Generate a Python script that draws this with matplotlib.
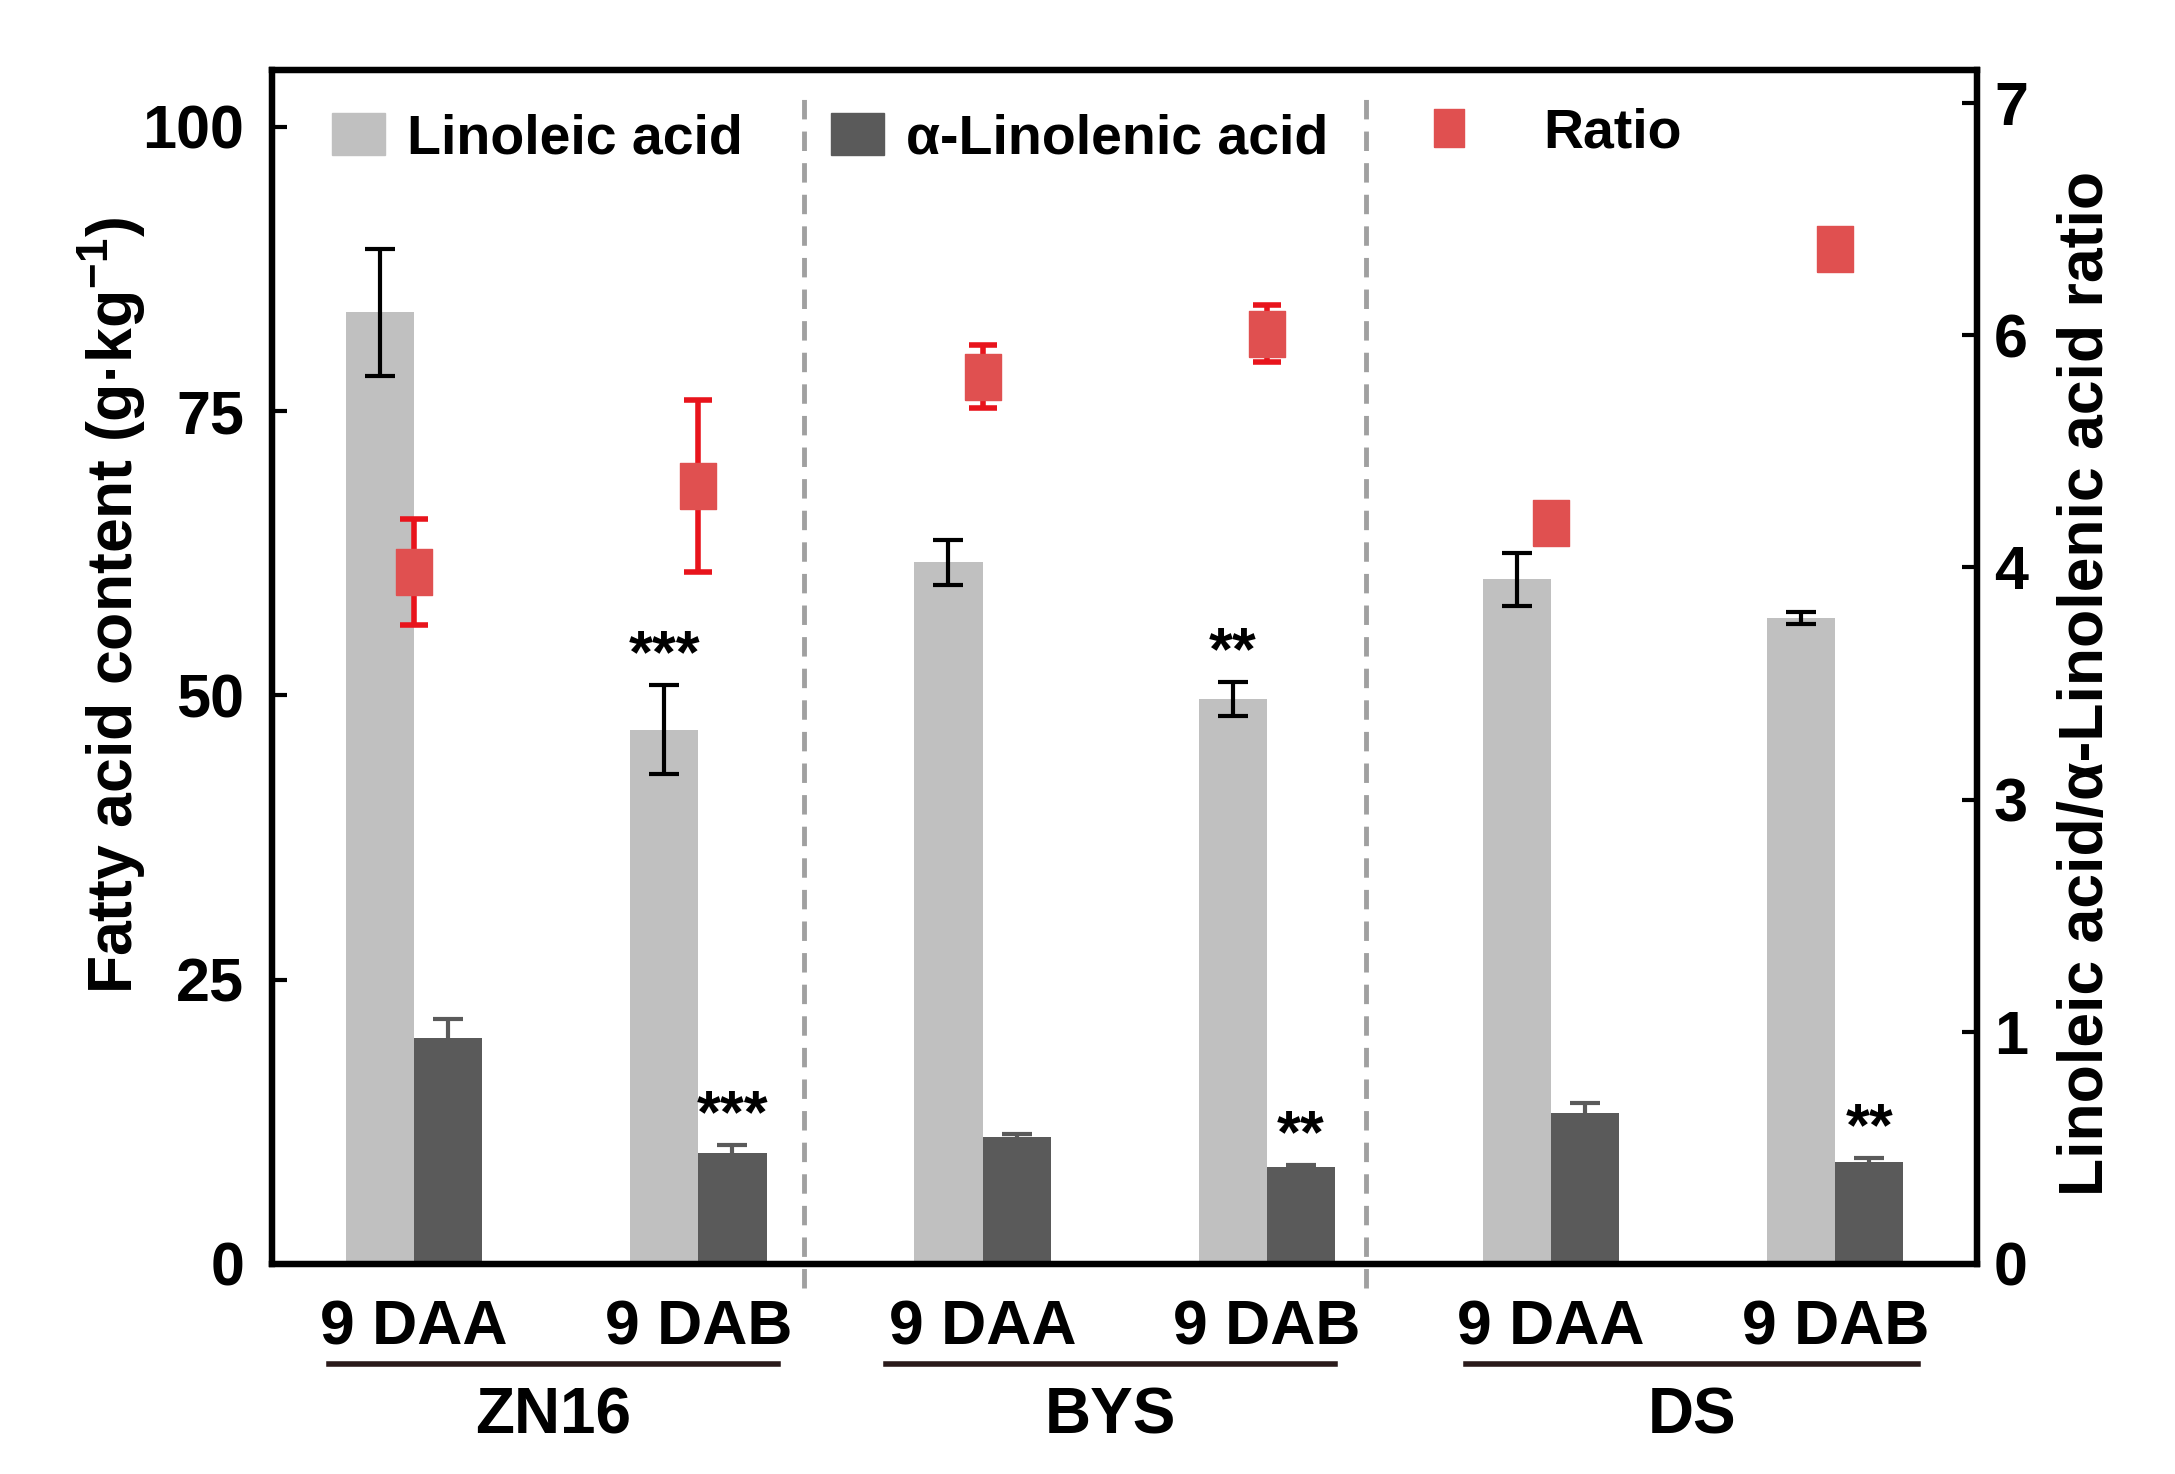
import matplotlib
matplotlib.use("Agg")
from matplotlib import pyplot as plt
from matplotlib.patches import Patch
from matplotlib.lines import Line2D
import numpy as np

plt.rcParams['font.family'] = ['Liberation Sans', 'DejaVu Sans']
plt.rcParams['font.weight'] = 'bold'
plt.rcParams['axes.labelweight'] = 'bold'
plt.rcParams['mathtext.fontset'] = 'custom'
plt.rcParams['mathtext.rm'] = 'Liberation Sans:bold'
plt.rcParams['mathtext.default'] = 'rm'

cultivars = ['ZN16', 'BYS', 'DS']
stages = ['9 DAA', '9 DAB', '9 DAA', '9 DAB', '9 DAA', '9 DAB']
linoleic = [83.7, 47.0, 61.7, 49.7, 60.2, 56.8]
linoleic_err = [5.6, 3.9, 2.0, 1.5, 2.3, 0.55]
linolenic = [19.9, 9.8, 11.2, 8.5, 13.3, 9.0]
linolenic_err = [1.6, 0.7, 0.25, 0.2, 0.85, 0.35]
ratio = [4.17, 4.69, 5.35, 5.61, 4.47, 6.12]
ratio_err = [0.32, 0.52, 0.19, 0.17, 0.0, 0.0]
lin_stars = ['', '***', '', '**', '', '']
alpha_stars = ['', '***', '', '**', '', '**']

light = '#c0c0c0'
dark = '#5a5a5a'
red_face = '#e05050'
red_err = '#e8141c'

x = np.arange(len(stages))
w = 0.24

fig = plt.figure(figsize=(21.75, 14.74), dpi=100)
ax = fig.add_axes([0.1251, 0.1425, 0.784, 0.810])

ax.bar(x - w / 2, linoleic, w, color=light, yerr=linoleic_err,
       error_kw=dict(ecolor='black', elinewidth=3, capsize=11, capthick=3))
ax.bar(x + w / 2, linolenic, w, color=dark, yerr=linolenic_err,
       error_kw=dict(ecolor=dark, elinewidth=3, capsize=11, capthick=3))

for i in range(len(stages)):
    if lin_stars[i]:
        ax.text(x[i] - w / 2, linoleic[i] + linoleic_err[i] + 1.1, lin_stars[i],
                ha='center', va='baseline', fontsize=44)
    if alpha_stars[i]:
        ax.text(x[i] + w / 2, linolenic[i] + linolenic_err[i] + 1.1, alpha_stars[i],
                ha='center', va='baseline', fontsize=44)

for xd in [1.37, 3.35]:
    ax.axvline(xd, ymin=-0.02, ymax=0.985, color='#a0a0a0', lw=3.5,
               ls=(0, (4, 2.5)), clip_on=False)

ax.set_xlim(-0.5, 5.5)
ax.set_ylim(0, 105.0)
ax.set_yticks([0, 25, 50, 75, 100])
ax.set_xticks(x)
ax.set_xticklabels(stages)
ax.tick_params(axis='y', direction='in', length=11, width=3, labelsize=44, pad=20)
ax.tick_params(axis='x', length=0, labelsize=45, pad=25)
ax.set_ylabel('Fatty acid content (g·kg$^{-1}$)', fontsize=45)
ax.yaxis.label.set_va('center')
ax.yaxis.set_label_coords(-0.094, 0.551)
for s in ax.spines.values():
    s.set_linewidth(4.5)

# cultivar brackets under the stage labels
bracket_span = [(-0.30, 1.28), (1.66, 3.24), (3.70, 5.29)]
for name, (x0, x1) in zip(cultivars, bracket_span):
    ax.plot([x0, x1], [-0.0835, -0.0835], color='#2a1a1a', lw=4,
            transform=ax.get_xaxis_transform(), clip_on=False)
    ax.text((x0 + x1) / 2, -0.128, name, ha='center', va='center', fontsize=46,
            transform=ax.get_xaxis_transform())

ax2 = ax.twinx()
rect = [(-0.8, -1), (0.8, -1), (0.8, 1), (-0.8, 1), (-0.8, -1)]
ax2.errorbar(x, ratio, yerr=ratio_err, fmt='none', ecolor=red_err,
             elinewidth=4, capsize=10, capthick=4)
ax2.plot(x, ratio, ls='none', marker=rect, ms=33, mfc=red_face, mec=red_face)
ax2.set_ylim(0, 7.199)
rt = np.linspace(0, 7, 6)
ax2.set_yticks(rt)
ax2.set_yticklabels([f'{v:.0f}' for v in rt])
ax2.tick_params(axis='y', direction='in', length=11, width=3, labelsize=44, pad=12)
ax2.set_ylabel('Linoleic acid/α-Linolenic acid ratio', fontsize=45)
ax2.yaxis.label.set_va('center')
ax2.yaxis.set_label_coords(1.064, 0.486)
for s in ax2.spines.values():
    s.set_linewidth(4.5)

leg_kw = dict(frameon=False, fontsize=40, borderpad=0, borderaxespad=0,
              loc='upper left')
l1 = ax2.legend(handles=[Patch(color=light, label='Linoleic acid')],
                bbox_to_anchor=(0.035, 0.964), handlelength=0.95,
                handleheight=0.8, handletextpad=0.4, **leg_kw)
ax2.add_artist(l1)
l2 = ax2.legend(handles=[Patch(color=dark, label='α-Linolenic acid')],
                bbox_to_anchor=(0.328, 0.964), handlelength=0.95,
                handleheight=0.8, handletextpad=0.4, **leg_kw)
ax2.add_artist(l2)
ax2.legend(handles=[Line2D([], [], ls='none', marker=rect, ms=27,
                           mfc=red_face, mec=red_face, label='Ratio')],
           bbox_to_anchor=(0.674, 0.969), handlelength=1.0,
           handletextpad=1.2, **leg_kw)

fig.savefig('out.png', dpi=100)
